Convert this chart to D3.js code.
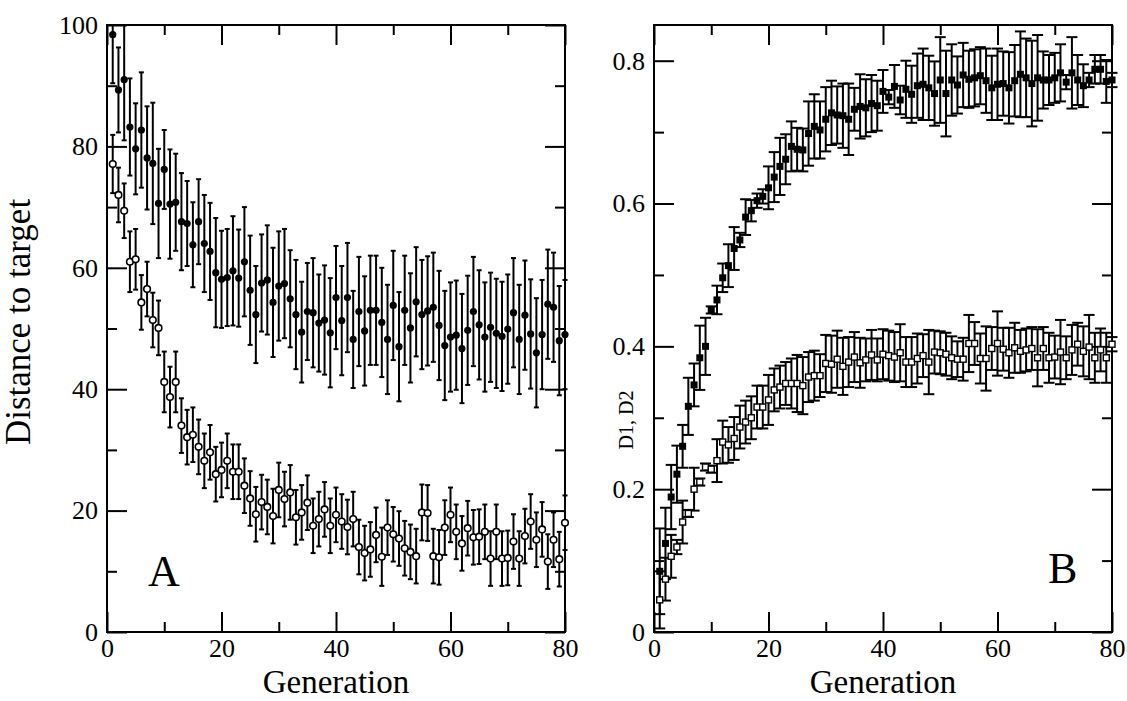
<!DOCTYPE html>
<html>
<head>
<meta charset="utf-8">
<script src="https://cdn.jsdelivr.net/npm/d3@7"></script>
<style>
  html, body { margin: 0; padding: 0; background: #fff; }
</style>
</head>
<body>
<div id="chart"></div>
<script>
// generations 1..80
const generations = d3.range(1, 81);

// panel A: distance to target (filled circles = upper series, open circles = lower series)
const distUpper = [98.4, 89.3, 91.0, 83.2, 79.6, 82.7, 78.1, 77.2, 70.6, 76.2,
  70.5, 70.8, 67.6, 67.3, 63.8, 67.6, 64.0, 62.7, 59.2, 58.1,
  58.4, 59.5, 58.3, 61.0, 56.3, 52.3, 57.5, 58.0, 54.3, 57.0,
  57.4, 54.9, 52.3, 49.4, 52.8, 52.6, 50.9, 51.4, 49.3, 55.1,
  51.3, 55.1, 48.2, 52.8, 49.6, 53.0, 53.0, 51.0, 48.2, 53.8,
  47.0, 53.0, 50.1, 54.4, 52.3, 52.9, 53.5, 50.5, 47.2, 48.6,
  48.9, 46.7, 49.7, 52.8, 50.6, 48.6, 50.2, 49.2, 48.7, 49.9,
  52.6, 48.2, 52.2, 49.1, 46.0, 49.0, 54.0, 53.5, 48.0, 49.0];
const distUpperErr = [8, 7, 10, 8, 7.5, 9.5, 8.5, 10, 9, 6.5,
  9, 8, 8, 7, 7, 7, 8, 8, 9, 8,
  8, 9, 8, 9, 9, 8, 8, 9, 9, 9,
  9, 8, 9, 8.3, 8, 9, 8, 9, 9, 8.5,
  9, 9, 8, 9, 9, 9, 9, 9, 9, 9,
  9, 9, 9, 9, 9, 9, 9, 9, 9, 9,
  9, 9, 9, 9, 9, 9, 9, 9, 9, 9,
  9, 9, 9, 9, 9, 9, 9, 9, 9, 9];
const distLower = [77.1, 72.0, 69.4, 61.0, 61.4, 54.3, 56.5, 51.4, 50.1, 41.2,
  38.7, 41.2, 34.0, 32.1, 32.5, 30.5, 28.2, 29.6, 26.0, 26.7,
  28.2, 26.4, 26.4, 24.1, 22.0, 19.4, 21.4, 20.6, 19.1, 23.4,
  21.9, 23.0, 18.9, 19.7, 21.3, 17.5, 18.6, 20.2, 17.5, 19.3,
  18.2, 17.3, 18.6, 14.0, 13.0, 13.6, 16.0, 12.4, 17.2, 16.1,
  15.4, 13.8, 13.2, 12.5, 19.7, 19.6, 12.5, 12.3, 17.2, 19.3,
  16.5, 14.6, 17.1, 15.6, 15.7, 16.5, 12.1, 16.5, 12.1, 12.2,
  14.9, 12.1, 15.8, 18.2, 15.2, 16.9, 11.6, 15.2, 12.0, 18.0];
const distLowerErr = [4.8, 4.5, 4.5, 5, 5, 4.5, 4.5, 4.5, 4.5, 5,
  5, 5, 4.5, 4.5, 4.5, 4.5, 4.5, 4.5, 4.5, 4.5,
  4.5, 4.5, 4.5, 4.5, 4.5, 4.5, 4.5, 4.5, 4.5, 4.5,
  4.5, 4.5, 4.5, 4.5, 4.5, 4.5, 4.5, 4.5, 4.5, 4.5,
  4.5, 4.5, 4.5, 4.5, 4.5, 4.5, 4.5, 4.8, 4.5, 4.5,
  4.5, 4.5, 4.5, 4.5, 4.6, 4.6, 4.5, 4.5, 4.5, 4.5,
  4.5, 4.5, 4.5, 4.5, 4.5, 4.5, 4.5, 4.5, 4.5, 4.5,
  4.5, 4.5, 4.5, 4.5, 4.5, 4.5, 4.5, 4.5, 4.5, 4.5];

// panel B: D1 (filled squares), D2 (open squares)
const d1 = [0.085, 0.124, 0.189, 0.221, 0.260, 0.316, 0.346, 0.384, 0.400, 0.451,
  0.465, 0.496, 0.513, 0.537, 0.549, 0.581, 0.590, 0.604, 0.610, 0.622,
  0.637, 0.652, 0.662, 0.680, 0.676, 0.675, 0.698, 0.708, 0.703, 0.718,
  0.727, 0.724, 0.723, 0.718, 0.732, 0.736, 0.734, 0.740, 0.737, 0.757,
  0.749, 0.764, 0.745, 0.760, 0.753, 0.765, 0.767, 0.762, 0.754, 0.773,
  0.754, 0.773, 0.766, 0.780, 0.774, 0.776, 0.779, 0.772, 0.762, 0.767,
  0.768, 0.762, 0.772, 0.781, 0.776, 0.768, 0.776, 0.773, 0.773, 0.776,
  0.783, 0.770, 0.783, 0.773, 0.765, 0.773, 0.788, 0.788, 0.771, 0.773];
const d1Err = [0.06, 0.05, 0.045, 0.04, 0.03, 0.04, 0.03, 0.045, 0.04, 0.005,
  0.02, 0.02, 0.03, 0.03, 0.01, 0.025, 0.015, 0.01, 0.01, 0.03,
  0.035, 0.04, 0.035, 0.035, 0.03, 0.03, 0.045, 0.045, 0.04, 0.045,
  0.045, 0.04, 0.045, 0.05, 0.03, 0.045, 0.04, 0.04, 0.035, 0.03,
  0.01, 0.03, 0.02, 0.04, 0.04, 0.045, 0.05, 0.045, 0.045, 0.06,
  0.06, 0.05, 0.04, 0.045, 0.04, 0.04, 0.04, 0.045, 0.045, 0.05,
  0.045, 0.05, 0.05, 0.06, 0.055, 0.06, 0.06, 0.04, 0.035, 0.035,
  0.04, 0.01, 0.05, 0.035, 0.03, 0.01, 0.02, 0.02, 0.03, 0.01];
const d2 = [0.045, 0.074, 0.106, 0.119, 0.154, 0.166, 0.200, 0.210, 0.231, 0.228,
  0.240, 0.266, 0.262, 0.271, 0.287, 0.294, 0.300, 0.315, 0.315, 0.325,
  0.339, 0.343, 0.348, 0.348, 0.348, 0.345, 0.357, 0.359, 0.359, 0.376,
  0.375, 0.382, 0.372, 0.378, 0.385, 0.377, 0.381, 0.388, 0.381, 0.389,
  0.387, 0.385, 0.391, 0.378, 0.378, 0.383, 0.387, 0.378, 0.392, 0.391,
  0.389, 0.384, 0.382, 0.382, 0.404, 0.404, 0.383, 0.383, 0.397, 0.404,
  0.396, 0.391, 0.398, 0.393, 0.395, 0.397, 0.384, 0.397, 0.384, 0.385,
  0.392, 0.384, 0.395, 0.403, 0.393, 0.399, 0.384, 0.395, 0.384, 0.403];
const d2Err = [0.04, 0.03, 0.03, 0.01, 0.03, 0.005, 0.03, 0.005, 0.005, 0.005,
  0.03, 0.03, 0.025, 0.03, 0.03, 0.03, 0.03, 0.03, 0.03, 0.035,
  0.03, 0.03, 0.03, 0.035, 0.04, 0.04, 0.035, 0.035, 0.03, 0.04,
  0.04, 0.04, 0.04, 0.035, 0.035, 0.035, 0.03, 0.035, 0.03, 0.035,
  0.035, 0.035, 0.04, 0.035, 0.035, 0.035, 0.03, 0.045, 0.03, 0.03,
  0.03, 0.03, 0.025, 0.03, 0.04, 0.03, 0.035, 0.045, 0.03, 0.045,
  0.03, 0.035, 0.035, 0.03, 0.03, 0.03, 0.04, 0.03, 0.035, 0.03,
  0.045, 0.03, 0.035, 0.03, 0.035, 0.045, 0.035, 0.03, 0.035, 0.01];

const xTicksMajor = [0, 20, 40, 60, 80];
const xTicksMinor = [10, 30, 50, 70];
const yTicksA = [0, 20, 40, 60, 80, 100];
const yTicksAMinor = [10, 30, 50, 70, 90];
const yTicksB = [0, 0.2, 0.4, 0.6, 0.8];
const yTicksBMinor = [0.1, 0.3, 0.5, 0.7];

const width = 1127;
const height = 701;
const font = '"Liberation Serif", "Times New Roman", serif';

const svg = d3.select('#chart')
  .append('svg')
  .attr('width', width)
  .attr('height', height)
  .style('display', 'block');

// one panel with its frame, ticks on all four sides, labels
function drawPanel(opts) {
  const x = d3.scaleLinear().domain([0, 80]).range([opts.left, opts.right]);
  const y = d3.scaleLinear().domain(opts.yDomain).range([632, 25]);
  const g = svg.append('g');

  const styleAxis = (sel, showText) => {
    sel.select('.domain').remove();
    sel.selectAll('line').attr('stroke', '#000').attr('stroke-width', 2);
    sel.selectAll('text')
      .attr('font-family', font)
      .attr('font-size', '26px')
      .attr('fill', '#000')
      .style('display', showText ? null : 'none');
  };

  // bottom
  g.append('g').attr('transform', `translate(0,632)`)
    .call(d3.axisBottom(x).tickValues(xTicksMajor).tickSize(-20).tickPadding(7))
    .call(s => styleAxis(s, true));
  g.append('g').attr('transform', `translate(0,632)`)
    .call(d3.axisBottom(x).tickValues(xTicksMinor).tickSize(-10).tickFormat(''))
    .call(s => styleAxis(s, false));
  // top
  g.append('g').attr('transform', `translate(0,25)`)
    .call(d3.axisTop(x).tickValues(xTicksMajor).tickSize(-20).tickFormat(''))
    .call(s => styleAxis(s, false));
  g.append('g').attr('transform', `translate(0,25)`)
    .call(d3.axisTop(x).tickValues(xTicksMinor).tickSize(-10).tickFormat(''))
    .call(s => styleAxis(s, false));
  // left
  g.append('g').attr('transform', `translate(${opts.left},0)`)
    .call(d3.axisLeft(y).tickValues(opts.yMajor).tickSize(-20).tickPadding(9).tickFormat(opts.fmt))
    .call(s => styleAxis(s, true));
  g.append('g').attr('transform', `translate(${opts.left},0)`)
    .call(d3.axisLeft(y).tickValues(opts.yMinor).tickSize(-10).tickFormat(''))
    .call(s => styleAxis(s, false));
  // right
  g.append('g').attr('transform', `translate(${opts.right},0)`)
    .call(d3.axisRight(y).tickValues(opts.yMajor).tickSize(-20).tickFormat(''))
    .call(s => styleAxis(s, false));
  g.append('g').attr('transform', `translate(${opts.right},0)`)
    .call(d3.axisRight(y).tickValues(opts.yMinor).tickSize(-10).tickFormat(''))
    .call(s => styleAxis(s, false));

  // frame
  g.append('rect')
    .attr('x', opts.left).attr('y', 25)
    .attr('width', opts.right - opts.left).attr('height', 607)
    .attr('fill', 'none').attr('stroke', '#000').attr('stroke-width', 2);

  // x title
  g.append('text')
    .attr('x', (opts.left + opts.right) / 2)
    .attr('y', 693)
    .attr('text-anchor', 'middle')
    .attr('font-family', font)
    .attr('font-size', '33px')
    .text('Generation');

  // panel letter
  g.append('text')
    .attr('x', opts.letterX)
    .attr('y', opts.letterY)
    .attr('font-family', font)
    .attr('font-size', '44px')
    .text(opts.letter);

  return { x, y, g };
}

// error bars plus markers for one series
function drawSeries(p, values, errs, capW, marker) {
  const pts = generations.map((gen, i) => ({ gen, v: values[i], e: errs[i] }));
  const grp = p.g.append('g');
  const [yMin, yMax] = p.y.domain();
  const clampY = v => p.y(Math.max(yMin, Math.min(yMax, v)));
  pts.forEach(d => {
    const cx = p.x(d.gen);
    const yTop = clampY(d.v + d.e);
    const yBot = clampY(d.v - d.e);
    grp.append('line')
      .attr('x1', cx).attr('x2', cx).attr('y1', yTop).attr('y2', yBot)
      .attr('stroke', '#000').attr('stroke-width', 2);
    if (d.v + d.e <= yMax) {
      grp.append('line')
        .attr('x1', cx - capW / 2).attr('x2', cx + capW / 2).attr('y1', yTop).attr('y2', yTop)
        .attr('stroke', '#000').attr('stroke-width', 2);
    }
    if (d.v - d.e >= yMin) {
      grp.append('line')
        .attr('x1', cx - capW / 2).attr('x2', cx + capW / 2).attr('y1', yBot).attr('y2', yBot)
        .attr('stroke', '#000').attr('stroke-width', 2);
    }
  });
  pts.forEach(d => {
    const cx = p.x(d.gen), cy = p.y(d.v);
    if (marker === 'filledCircle') {
      grp.append('circle').attr('cx', cx).attr('cy', cy).attr('r', 3.6).attr('fill', '#000');
    } else if (marker === 'openCircle') {
      grp.append('circle').attr('cx', cx).attr('cy', cy).attr('r', 3.3)
        .attr('fill', '#fff').attr('stroke', '#000').attr('stroke-width', 1.6);
    } else if (marker === 'filledSquare') {
      grp.append('rect').attr('x', cx - 3.5).attr('y', cy - 3.5).attr('width', 7).attr('height', 7).attr('fill', '#000');
    } else {
      grp.append('rect').attr('x', cx - 3).attr('y', cy - 3).attr('width', 6).attr('height', 6)
        .attr('fill', '#fff').attr('stroke', '#000').attr('stroke-width', 1.4);
    }
  });
}

const panelA = drawPanel({
  left: 107, right: 565, yDomain: [0, 100],
  yMajor: yTicksA, yMinor: yTicksAMinor, fmt: d3.format('d'),
  letter: 'A', letterX: 148, letterY: 586
});
drawSeries(panelA, distUpper, distUpperErr, 5, 'filledCircle');
drawSeries(panelA, distLower, distLowerErr, 5, 'openCircle');

const panelB = drawPanel({
  left: 654, right: 1112, yDomain: [0, 0.85],
  yMajor: yTicksB, yMinor: yTicksBMinor, fmt: d => d === 0 ? '0' : d.toFixed(1),
  letter: 'B', letterX: 1048, letterY: 583
});
drawSeries(panelB, d1, d1Err, 11, 'filledSquare');
drawSeries(panelB, d2, d2Err, 11, 'openSquare');

// y titles
svg.append('text')
  .attr('transform', 'translate(30,322) rotate(-90)')
  .attr('text-anchor', 'middle')
  .attr('font-family', font)
  .attr('font-size', '35px')
  .text('Distance to target');

svg.append('text')
  .attr('transform', 'translate(633,420) rotate(-90)')
  .attr('text-anchor', 'middle')
  .attr('font-family', font)
  .attr('font-size', '20px')
  .text('D1, D2');
</script>
</body>
</html>
